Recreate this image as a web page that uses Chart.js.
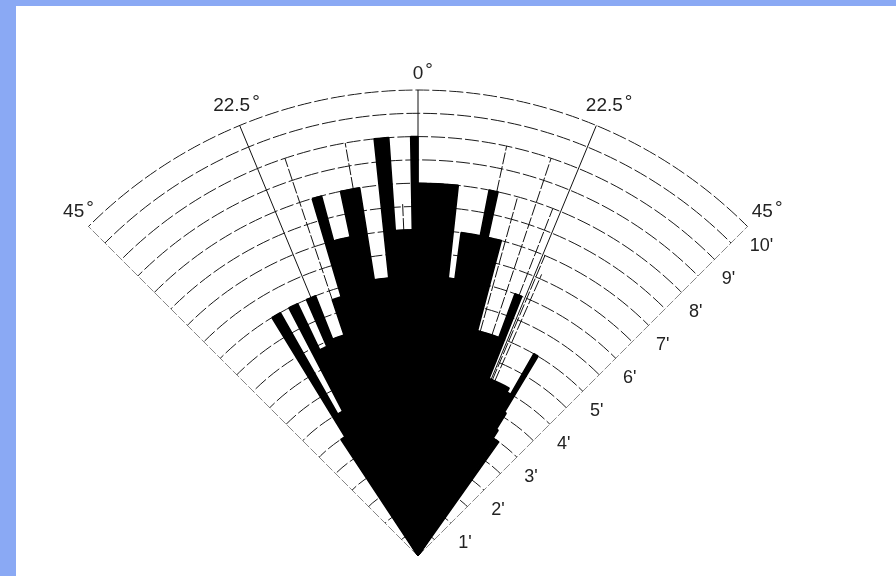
<!DOCTYPE html>
<html>
<head>
<meta charset="utf-8">
<script src="https://cdn.jsdelivr.net/npm/chart.js@4.4.1/dist/chart.umd.min.js"></script>
<style>
  html, body { margin: 0; padding: 0; width: 896px; height: 576px; overflow: hidden; background: #8aa9f4; }
  #panel { position: absolute; left: 16px; top: 6px; right: 0; bottom: 0; background: #ffffff; }
  #sonar { position: absolute; left: 0; top: 0; }
</style>
</head>
<body>
<div id="panel"></div>
<canvas id="sonar" width="1000" height="1000"></canvas>
<script>
// Beam sectors: edges in degrees (0 = dead ahead, negative = left), echo range in feet per beam
const beamEdges = [-45, -33.5, -31.5, -29.5, -27.5, -25.5, -23.5, -21.5, -18.5, -16.5, -15, -12, -9, -6, -4, -1, 0,
                   6.2, 7.6, 11, 12.4, 14.8, 20.3, 21.8, 28.5, 29.8, 31, 31.7, 32.5, 33.2, 33.5, 35.3, 45];
const beamRange = [0, 3.0, 6.0, 3.5, 6.0, 4.9, 6.0, 5.0, 5.8, 8.0, 7.0, 8.0, 6.0, 9.0, 7.0, 9.0,
                   8.0, 6.0, 7.0, 8.0, 7.0, 5.0, 6.0, 4.1, 4.0, 5.0, 3.6, 3.2, 3.0, 1.4, 3.0, 0];

// Earlier-sweep beam boundaries still traced on the grid: bearing, inner and outer range (feet)
const traceBearing = [12.2, 15.5, 18.5, 21.2, 22.9, 23.7, -10, -18.5, -2.5];
const traceFrom    = [8.0,  5.0,  5.0,  6.0,  4.1,  4.1,  8.0, 5.8,   7.0];
const traceTo      = [9.0,  8.0,  9.0,  8.0,  7.0,  6.6,  9.0, 9.0,   7.6];

// Range rings (feet) and their labels
const rangeMax = 10;
const ringStep = 0.5;
const rangeTicks = [1, 2, 3, 4, 5, 6, 7, 8, 9, 10];
const rangeLabels = ["1'", "2'", "3'", "4'", "5'", "6'", "7'", "8'", "9'", "10'"];

// Bearing lines and their labels
const bearingTicks = [-45, -22.5, 0, 22.5, 45];
const bearingLabels = ['45', '22.5', '0', '22.5', '45'];

const sweepStart = beamEdges[0];
const sweepEnd = beamEdges[beamEdges.length - 1];
const beamWidths = beamEdges.slice(1).map((e, i) => e - beamEdges[i]);

// the rest of the circle, behind the transducer, is an empty segment
const sectorValues = beamRange.concat([0]);
const sectorWidths = beamWidths.concat([360 - (sweepEnd - sweepStart)]);
const sectorNames = beamEdges.slice(1).map((e, i) => beamEdges[i] + '..' + e).concat(['rear']);

const rad = d => (d - 90) * Math.PI / 180;   // bearing -> canvas angle

function polar(scale, deg, value) {
  const r = scale.getDistanceFromCenterForValue(value);
  const a = rad(deg);
  return { x: scale.xCenter + r * Math.cos(a), y: scale.yCenter + r * Math.sin(a) };
}

function spoke(ctx, scale, deg, from, to) {
  const p0 = polar(scale, deg, from), p1 = polar(scale, deg, to);
  ctx.beginPath();
  ctx.moveTo(p0.x, p0.y);
  ctx.lineTo(p1.x, p1.y);
  ctx.stroke();
}

const sonarFrame = {
  id: 'sonarFrame',
  afterLayout(chart) {
    // put the transducer (scale centre) at the bottom middle of the page
    const s = chart.scales.r;
    chart.canvas.style.left = (418 - s.xCenter) + 'px';
    chart.canvas.style.top = (556 - s.yCenter) + 'px';
  },
  beforeDraw(chart) {
    // keep the ring grid and the echoes inside the swept sector
    const s = chart.scales.r, ctx = chart.ctx;
    ctx.save();
    ctx.beginPath();
    ctx.moveTo(s.xCenter, s.yCenter);
    ctx.arc(s.xCenter, s.yCenter, s.drawingArea + 1, rad(sweepStart), rad(sweepEnd));
    ctx.closePath();
    ctx.clip();
  },
  beforeDatasetsDraw(chart) {
    // grid spokes go under the echoes
    const s = chart.scales.r, ctx = chart.ctx;
    ctx.save();
    ctx.strokeStyle = '#111';
    ctx.lineWidth = 1;
    bearingTicks.forEach(b => {
      ctx.setLineDash(Math.abs(b) === 45 ? [9, 2] : []);
      spoke(ctx, s, b, 0, rangeMax);
    });
    ctx.setLineDash([12, 2]);
    traceBearing.forEach((b, i) => spoke(ctx, s, b, traceFrom[i], traceTo[i]));
    ctx.restore();
  },
  afterDraw(chart) {
    const s = chart.scales.r, ctx = chart.ctx;
    ctx.restore();

    // bearing labels
    ctx.save();
    ctx.fillStyle = '#222';
    ctx.textBaseline = 'middle';
    bearingTicks.forEach((b, i) => {
      const p = polar(s, b, b === 0 ? 10.35 : 10.45);
      ctx.font = '19px "Liberation Sans", Arial, sans-serif';
      ctx.textAlign = 'center';
      const w = ctx.measureText(bearingLabels[i]).width;
      ctx.fillText(bearingLabels[i], p.x, p.y);
      ctx.textAlign = 'left';
      ctx.fillText('\u00b0', p.x + w / 2 + 2, p.y - 3);
    });

    // range labels along the right edge
    ctx.font = '18px "Liberation Sans", Arial, sans-serif';
    ctx.textAlign = 'center';
    rangeTicks.forEach((v, i) => {
      const p = polar(s, sweepEnd, v);
      ctx.fillText(rangeLabels[i], p.x + 14, p.y + 20);
    });
    ctx.restore();
  }
};

new Chart(document.getElementById('sonar'), {
  type: 'polarArea',
  data: {
    labels: sectorNames,
    datasets: [{
      data: sectorValues,
      backgroundColor: '#000',
      borderColor: '#000',
      borderWidth: ctx => (sectorValues[ctx.dataIndex] > 0 ? 1.6 : 0),
      borderAlign: 'center',
      angle: ctx => sectorWidths[ctx.dataIndex]
    }]
  },
  options: {
    responsive: false,
    devicePixelRatio: 1,
    animation: false,
    events: [],
    layout: { padding: 34 },
    plugins: { legend: { display: false }, tooltip: { enabled: false } },
    scales: {
      r: {
        min: 0,
        max: rangeMax,
        startAngle: sweepStart,
        ticks: { display: false, stepSize: ringStep },
        pointLabels: { display: false },
        angleLines: { display: false },
        grid: { circular: true, color: '#1a1a1a', lineWidth: 1 },
        border: { dash: [14, 3] }
      }
    }
  },
  plugins: [sonarFrame]
});
</script>
</body>
</html>
